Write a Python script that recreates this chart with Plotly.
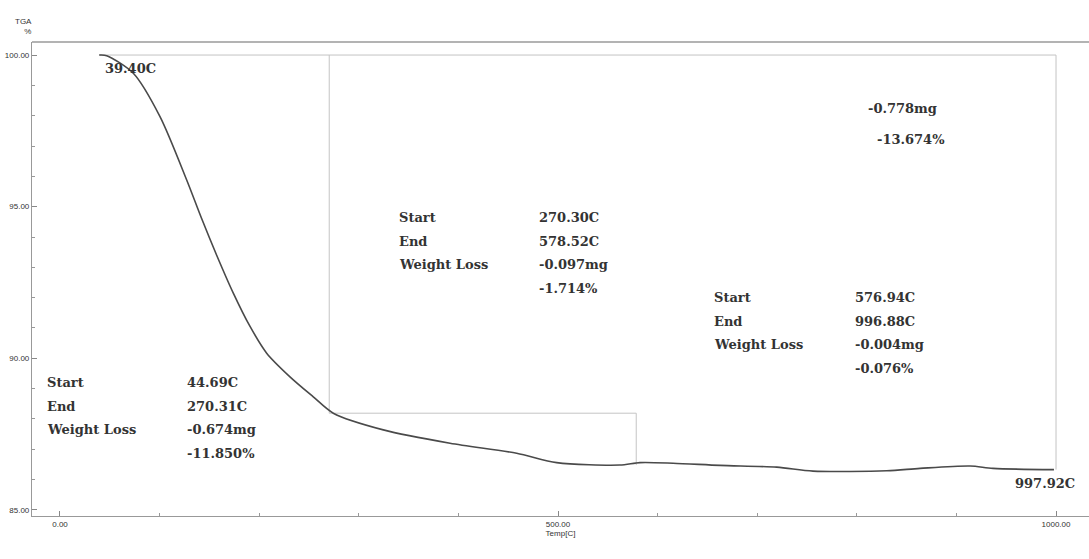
import plotly.graph_objects as go

# TGA curve (temperature C, weight %)
temp = [39.4, 46.9, 73.6, 100.4, 127.2, 142.3, 157.3, 174.0, 190.8, 207.5, 230.9,
        254.3, 274.4, 324.6, 391.6, 458.5, 498.7, 562.0, 582.3, 615.5, 662.7,
        719.6, 756.0, 830.0, 863.5, 913.7, 936.7, 997.92]
weight = [100.0, 99.98, 99.40, 97.97, 95.88, 94.60, 93.40, 92.15, 91.05, 90.17, 89.39,
          88.73, 88.19, 87.64, 87.20, 86.87, 86.56, 86.48, 86.56, 86.54, 86.47,
          86.41, 86.28, 86.29, 86.37, 86.45, 86.37, 86.33]

# step analysis results
overall_start_T = 39.40
overall_end_T = 997.92
overall_loss_mg = "-0.778mg"
overall_loss_pct = "-13.674%"
steps_start = ["44.69C", "270.30C", "576.94C"]
steps_end = ["270.31C", "578.52C", "996.88C"]
steps_mg = ["-0.674mg", "-0.097mg", "-0.004mg"]
steps_pct = ["-11.850%", "-1.714%", "-0.076%"]

# guide line levels (T, weight)
step1_end_T = 270.31
step2_end_T = 578.52
level_top = 100.0
level_step1 = 88.19
level_step2 = 86.48
level_end = 86.33
box_right_T = 1000.0

xticks = [0, 500, 1000]
xticklabels = ["0.00", "500.00", "1000.00"]
yticks = [85, 90, 95, 100]
yticklabels = ["85.00", "90.00", "95.00", "100.00"]

guide_color = "#c4c4c4"
fig = go.Figure()

# overall box
fig.add_trace(go.Scatter(x=[overall_start_T, box_right_T, box_right_T],
                         y=[level_top, level_top, level_end],
                         mode="lines", line=dict(color=guide_color, width=1),
                         hoverinfo="skip", showlegend=False))
# step boxes
fig.add_trace(go.Scatter(x=[step1_end_T, step1_end_T, step2_end_T, step2_end_T],
                         y=[level_top, level_step1, level_step1, level_step2],
                         mode="lines", line=dict(color=guide_color, width=1),
                         hoverinfo="skip", showlegend=False))
# curve
fig.add_trace(go.Scatter(x=temp, y=weight, mode="lines",
                         line=dict(color="#4a4a4a", width=1.6, shape="spline", smoothing=0.8),
                         showlegend=False))

tfont = dict(family="DejaVu Serif", size=13, color="#333333", weight="bold")
ann = []

def add(x, y, text):
    ann.append(dict(x=x, y=y, xref="x", yref="y", text=text, showarrow=False,
                    xanchor="left", yanchor="middle", font=tfont))

add(43.2, 99.57, f"{overall_start_T:.2f}C")
add(956.8, 85.86, f"{overall_end_T:.2f}C")
add(809.2, 98.25, overall_loss_mg)
add(818.3, 97.20, overall_loss_pct)

label_x = [-15.0, 338.4, 654.6]
value_x = [125.5, 479.0, 796.2]
row_y = [[89.20, 88.40, 87.64, 86.87],
         [94.64, 93.84, 93.08, 92.31],
         [92.02, 91.23, 90.44, 89.68]]
for i in range(3):
    add(label_x[i], row_y[i][0], "Start")
    add(label_x[i], row_y[i][1], "End")
    add(label_x[i], row_y[i][2], "Weight Loss")
    add(value_x[i], row_y[i][0], steps_start[i])
    add(value_x[i], row_y[i][1], steps_end[i])
    add(value_x[i], row_y[i][2], steps_mg[i])
    add(value_x[i], row_y[i][3], steps_pct[i])

small = dict(family="Liberation Sans", size=8, color="#333")
ann.append(dict(xref="paper", yref="paper", x=0, y=1, xanchor="right", yanchor="bottom",
                xshift=2, yshift=4, align="right", text="TGA<br>%",
                showarrow=False, font=small))

fig.update_layout(
    width=1089, height=559,
    margin=dict(l=32, r=0, t=42, b=43),
    paper_bgcolor="white", plot_bgcolor="white",
    annotations=ann,
    shapes=[dict(type="line", xref="paper", yref="paper", x0=0, x1=1, y0=1, y1=1,
                 line=dict(color="#9a9a9a", width=1.5))],
    xaxis=dict(range=[-28.1, 1033.1], tickvals=xticks, ticktext=xticklabels,
               ticks="inside", ticklen=5, tickcolor="#888",
               minor=dict(dtick=100, ticks="inside", ticklen=3, tickcolor="#999"),
               showline=True, linecolor="#999", linewidth=1.2, showgrid=False, zeroline=False,
               tickfont=small, title=dict(text="Temp[C]", font=small, standoff=2)),
    yaxis=dict(range=[84.80, 100.43], tickvals=yticks, ticktext=yticklabels,
               ticks="inside", ticklen=5, tickcolor="#888",
               minor=dict(dtick=1, ticks="inside", ticklen=3, tickcolor="#999"),
               showline=True, linecolor="#999", linewidth=1.2, showgrid=False, zeroline=False,
               tickfont=small),
)

fig.write_html("out.html")
